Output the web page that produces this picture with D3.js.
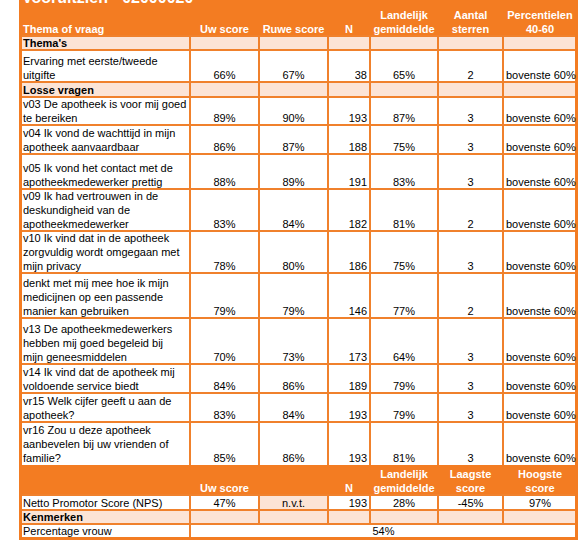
<!DOCTYPE html>
<html><head><meta charset="utf-8">
<script src="https://cdn.jsdelivr.net/npm/d3@7"></script>
<style>
body{margin:0;background:#fff}
svg{display:block}
text{font-family:"Liberation Sans",Arial,sans-serif;font-size:11px;fill:#000}
</style>
</head><body>
<svg id="c" width="583" height="557"></svg>
<script>
// ---------- data ----------
const title = "Vooruitzien - 02000020";
const headerLabels = ["Thema of vraag","Uw score","Ruwe score","N","Landelijk\ngemiddelde","Aantal\nsterren","Percentielen\n40-60"];
const sectionThema = "Thema's";
const sectionLosse = "Losse vragen";
const questions = [
  "Ervaring met eerste/tweede\nuitgifte",
  "v03 De apotheek is voor mij goed\nte bereiken",
  "v04 Ik vond de wachttijd in mijn\napotheek aanvaardbaar",
  "v05 Ik vond het contact met de\napotheekmedewerker prettig",
  "v09 Ik had vertrouwen in de\ndeskundigheid van de\napotheekmedewerker",
  "v10 Ik vind dat in de apotheek\nzorgvuldig wordt omgegaan met\nmijn privacy",
  "denkt met mij mee hoe ik mijn\nmedicijnen op een passende\nmanier kan gebruiken",
  "v13 De apotheekmedewerkers\nhebben mij goed begeleid bij\nmijn geneesmiddelen",
  "v14 Ik vind dat de apotheek mij\nvoldoende service biedt",
  "vr15 Welk cijfer geeft u aan de\napotheek?",
  "vr16 Zou u deze apotheek\naanbevelen bij uw vrienden of\nfamilie?"
];
const uwScore   = [66,89,86,88,83,78,79,70,84,83,85];
const ruweScore = [67,90,87,89,84,80,79,73,86,84,86];
const nValues   = [38,193,188,191,182,186,146,173,189,193,193];
const landelijk = [65,87,75,83,81,75,77,64,79,79,81];
const sterren   = [2,3,3,3,2,3,2,3,3,3,3];
const percentiel = ["bovenste 60%","bovenste 60%","bovenste 60%","bovenste 60%","bovenste 60%","bovenste 60%","bovenste 60%","bovenste 60%","bovenste 60%","bovenste 60%","bovenste 60%"];
const npsHeader = ["","Uw score","","N","Landelijk\ngemiddelde","Laagste\nscore","Hoogste\nscore"];
const npsLabel = "Netto Promotor Score (NPS)";
const npsValues = ["47%","n.v.t.","193","28%","-45%","97%"];
const sectionKenmerken = "Kenmerken";
const kenmerkLabel = "Percentage vrouw";
const kenmerkValue = "54%";

// ---------- layout ----------
const ORANGE = "#F37C22", PEACH = "#FCE4D6", LINE = "#F0812C";
const colWidths = [170,69,69,42,68,65,74];
const x0 = 20;
const colEdges = [x0, ...d3.cumsum(colWidths).map(v => v + x0)];
const xRight = colEdges[colEdges.length-1];
const align = ["start","middle","middle","end","middle","middle","start"];
const rowHeights = {header:36, thema:14, losse:15, q:[32,28,29,35,42,42,45,46,29,29,43], header2:30, nps:15, kenm:14, vrouw:14};
const LH = 14;

// build rows
const rows = [];
rows.push({type:"header", h:rowHeights.header, cells:headerLabels});
rows.push({type:"section", h:rowHeights.thema, cells:[sectionThema,"","","","","",""]});
questions.forEach((q,i)=>{
  rows.push({type:"data", h:rowHeights.q[i], cells:[q, uwScore[i]+"%", ruweScore[i]+"%", String(nValues[i]), landelijk[i]+"%", String(sterren[i]), percentiel[i]]});
  if(i===0) rows.push({type:"section", h:rowHeights.losse, cells:[sectionLosse,"","","","","",""]});
});
rows.push({type:"header", h:rowHeights.header2, cells:npsHeader});
rows.push({type:"nps", h:rowHeights.nps, cells:[npsLabel, ...npsValues]});
rows.push({type:"section", h:rowHeights.kenm, cells:[sectionKenmerken,"","","","","",""]});
rows.push({type:"merged", h:rowHeights.vrouw, cells:[kenmerkLabel, kenmerkValue]});
let yy = 0;
rows.forEach(r => { r.y = yy; yy += r.h; });
const yBottom = yy;

const svg = d3.select("#c");

// backgrounds
rows.forEach(r => {
  if(r.type==="header"){
    svg.append("rect").attr("x",x0).attr("y",r.y).attr("width",xRight-x0).attr("height",r.h).attr("fill",ORANGE);
  } else {
    svg.append("rect").attr("x",x0).attr("y",r.y).attr("width",xRight-x0).attr("height",r.h)
      .attr("fill", r.type==="section" ? PEACH : "#fff");
    if(r.type==="nps"){
      svg.append("rect").attr("x",colEdges[2]).attr("y",r.y).attr("width",colEdges[3]-colEdges[2]).attr("height",r.h).attr("fill",PEACH);
    }
  }
});

// grid lines
const g = svg.append("g").attr("stroke",LINE).attr("stroke-width",2);
rows.forEach((r,i) => {
  if(r.type==="header") return;
  // top line
  g.append("line").attr("x1",x0).attr("x2",xRight).attr("y1",r.y).attr("y2",r.y);
  const edges = r.type==="merged" ? [colEdges[1]] : colEdges.slice(1,-1);
  edges.forEach(x => g.append("line").attr("x1",x).attr("x2",x).attr("y1",r.y).attr("y2",r.y+r.h));
});
// outer border
svg.append("rect").attr("x",x0+0.5).attr("y",-2).attr("width",xRight-x0-1).attr("height",yBottom+2.5)
  .attr("fill","none").attr("stroke",ORANGE).attr("stroke-width",3);

// title (clipped at top)
svg.append("text").attr("x",22).attr("y",3).style("font-size","16px").style("font-weight","bold").style("fill","#fff").text(title);

// text
function cellText(r, ci, str, x1, x2, anchor, style){
  if(!str) return;
  const lines = str.split("\n");
  const base = r.y + r.h - 3;
  const x = anchor==="start" ? x1+3 : anchor==="end" ? x2-3 : (x1+x2)/2;
  lines.forEach((ln,k) => {
    const t = svg.append("text").attr("x",x).attr("y", base - (lines.length-1-k)*LH + (style.dy||0))
      .attr("text-anchor",anchor).text(ln);
    if(style.bold) t.style("font-weight","bold");
    if(style.white) t.style("fill","#fff");
  });
}
rows.forEach(r => {
  if(r.type==="merged"){
    cellText(r,0,r.cells[0],colEdges[0],colEdges[1],"start",{});
    cellText(r,1,r.cells[1],colEdges[1],xRight,"middle",{});
    return;
  }
  r.cells.forEach((c,ci) => {
    const x1 = colEdges[ci], x2 = colEdges[ci+1];
    if(r.type==="header"){
      cellText(r,ci,c,x1,x2, ci===0?"start":"middle",{bold:true,white:true});
    } else if(r.type==="section"){
      cellText(r,ci,c,x1,x2,"start",{bold:true});
    } else if(r.type==="nps"){
      cellText(r,ci,c,x1,x2, ci===0?"start":ci===3?"end":"middle",{});
    } else {
      cellText(r,ci,c,x1,x2,align[ci],{});
    }
  });
});
</script>
</body></html>
